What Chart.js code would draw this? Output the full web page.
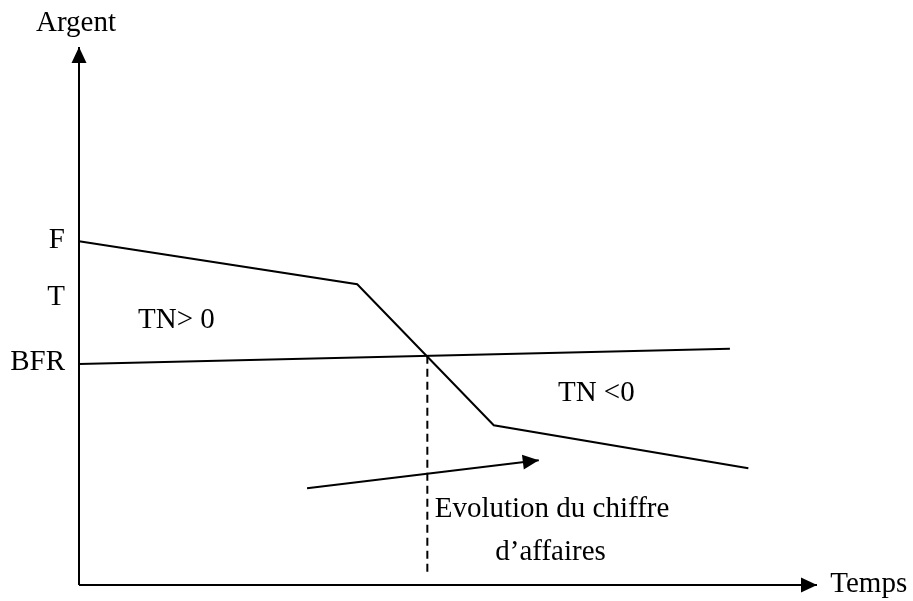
<!DOCTYPE html>
<html>
<head>
<meta charset="utf-8">
<script src="https://cdnjs.cloudflare.com/ajax/libs/Chart.js/4.4.1/chart.umd.min.js"></script>
<style>
  html,body{margin:0;padding:0;background:#fff;}
  canvas{display:block;}
</style>
</head>
<body>
<canvas id="chart" width="913" height="601"></canvas>
<script>
// Schematic: funds (F) vs working capital need (BFR) over time.
// Units are arbitrary: x 0..100 (Temps), y 0..100 (Argent).

// --- Data -----------------------------------------------------------------
const F_X   = [0, 37.7, 56.2, 90.7];      // fonds de roulement line
const F_Y   = [63.9, 55.9, 29.7, 21.7];
const BFR_X = [0, 88.2];                  // besoin en fonds de roulement
const BFR_Y = [41.1, 43.9];
const CUT_X = [47.2, 47.2];               // dashed drop where TN = 0
const CUT_Y = [42.6, 2.4];
const CA_X  = [30.9, 62.3];               // "évolution du chiffre d'affaires" arrow
const CA_Y  = [18.0, 23.2];
const AXIS_Y_X = [0, 0],   AXIS_Y_Y = [0, 100];
const AXIS_X_X = [0, 100], AXIS_X_Y = [0, 0];

// y-axis labels
const Y_LABELS = ['F', 'T', 'BFR'];
const Y_LABEL_VALUES = [64.5, 53.9, 41.8];

// free text (x, y in data units; align = left/center)
const NOTES = [
  ['Argent', -0.4, 104.8, 'center'],
  ['Temps', 101.8, 0.4, 'left'],
  ['TN> 0', 8.0, 49.6, 'left'],
  ['TN <0', 64.9, 35.9, 'left'],
  ['Evolution du chiffre', 48.2, 14.5, 'left'],
  ['d\u2019affaires', 56.4, 6.5, 'left'],
];

const FONT = '29px "Liberation Serif", "Times New Roman", serif';
const pts = (xs, ys) => xs.map((x, i) => ({x, y: ys[i]}));

// --- Plugin: arrowheads + text --------------------------------------------
const sketch = {
  id: 'sketch',
  afterDatasetsDraw(chart){
    const {ctx, scales:{x, y}} = chart;
    ctx.save();
    // arrowheads at the last point of flagged datasets
    chart.data.datasets.forEach(ds => {
      if(!ds.arrow) return;
      const n = ds.data.length;
      const a = ds.data[n-2], b = ds.data[n-1];
      const x0 = x.getPixelForValue(a.x), y0 = y.getPixelForValue(a.y);
      const x1 = x.getPixelForValue(b.x), y1 = y.getPixelForValue(b.y);
      const ang = Math.atan2(y1-y0, x1-x0), L = 16, W = 7.5;
      ctx.beginPath();
      ctx.moveTo(x1, y1);
      ctx.lineTo(x1 - L*Math.cos(ang) + W*Math.sin(ang), y1 - L*Math.sin(ang) - W*Math.cos(ang));
      ctx.lineTo(x1 - L*Math.cos(ang) - W*Math.sin(ang), y1 - L*Math.sin(ang) + W*Math.cos(ang));
      ctx.closePath();
      ctx.fillStyle = '#000';
      ctx.fill();
    });
    // texts
    ctx.fillStyle = '#000';
    ctx.font = FONT;
    ctx.textBaseline = 'middle';
    ctx.textAlign = 'right';
    Y_LABELS.forEach((t, i) => ctx.fillText(t, x.left - 14, y.getPixelForValue(Y_LABEL_VALUES[i]) + 2));
    NOTES.forEach(([t, vx, vy, al]) => {
      ctx.textAlign = al;
      ctx.fillText(t, x.getPixelForValue(vx), y.getPixelForValue(vy) + 2);
    });
    ctx.restore();
  }
};

// --- Chart ----------------------------------------------------------------
const line = (data, extra) => Object.assign({
  data, showLine: true, borderColor: '#000', borderWidth: 2,
  pointRadius: 0, clip: false, tension: 0, fill: false,
}, extra);

new Chart(document.getElementById('chart'), {
  type: 'scatter',
  data: {
    datasets: [
      line(pts(AXIS_Y_X, AXIS_Y_Y), {arrow: true}),
      line(pts(AXIS_X_X, AXIS_X_Y), {arrow: true}),
      line(pts(F_X, F_Y)),
      line(pts(BFR_X, BFR_Y)),
      line(pts(CUT_X, CUT_Y), {borderDash: [8, 5], borderWidth: 2}),
      line(pts(CA_X, CA_Y), {arrow: true}),
    ]
  },
  options: {
    responsive: false, animation: false,
    layout: {padding: {left: 79, top: 47, right: 96, bottom: 16}},
    plugins: {legend: {display: false}, tooltip: {enabled: false}},
    scales: {
      x: {type: 'linear', min: 0, max: 100, display: false},
      y: {type: 'linear', min: 0, max: 100, display: false},
    },
  },
  plugins: [sketch],
});
</script>
</body>
</html>
